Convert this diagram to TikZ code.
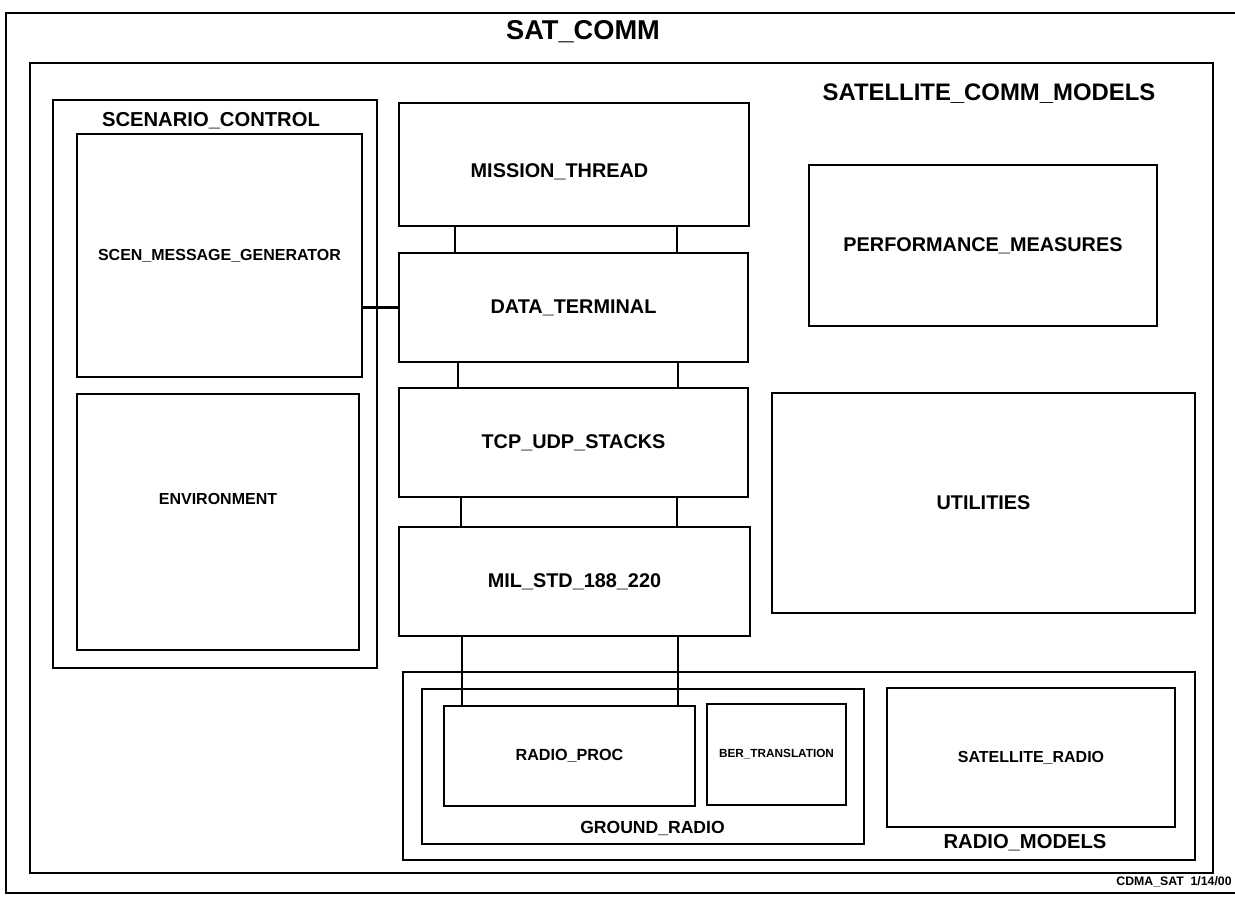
\documentclass[tikz,border=0pt]{standalone}
\usepackage{fontspec}
\setmainfont{Liberation Sans}
\tikzset{
        blk/.style={draw, line width=0.7pt, inner sep=0pt, font=\bfseries\fontsize{11.3}{13}\selectfont},
        blksize/.style 2 args={minimum width=#1*0.02cm, minimum height=#2*0.02cm},
        ttl/.style={inner sep=0pt, font=\bfseries\fontsize{#1}{#1}\selectfont},
        link/.style={line width=1.2pt},
}

\begin{document}
\begin{tikzpicture}[x=0.02cm, y=-0.02cm]
        \useasboundingbox (0,0) rectangle (1235,898);

        \draw[line width=0.7pt] (1240,13) -- (6,13) -- (6,893) -- (1240,893);
        \node[ttl=15.5] (satcomm) at (583,32) {SAT\_COMM};

        \node[blk, blksize={1183}{810}] (models) at (621.5,468) {};
        \node[ttl=13.6] (models-t) at (989,94) {SATELLITE\_COMM\_MODELS};

        \node[blk, blksize={324}{568}] (scenario) at (215,384) {};
        \node[ttl=11.5] (scenario-t) at (211,121) {SCENARIO\_CONTROL};
        \node[blk, blksize={285}{243}, font=\bfseries\fontsize{9.1}{11}\selectfont] (scen) at (219.5,255.5) {SCEN\_MESSAGE\_GENERATOR};
        \node[blk, blksize={282}{256},
                label={[name=env-t, yshift=0.46cm, font=\bfseries\fontsize{9.1}{11}\selectfont]center:ENVIRONMENT}] (env) at (218,522) {};

        \node[blk, blksize={350}{123},
                label={[name=mission-t, xshift=-0.29cm, yshift=-0.15cm, font=\bfseries\fontsize{11.3}{13}\selectfont]center:MISSION\_THREAD}] (mission) at (574,164.5) {};
        \node[blk, blksize={349}{109}] (dt) at (573.5,307.5) {DATA\_TERMINAL};
        \node[blk, blksize={349}{109}] (tcp) at (573.5,442.5) {TCP\_UDP\_STACKS};
        \node[blk, blksize={351}{109}] (mil) at (574.5,581.5) {MIL\_STD\_188\_220};

        \node[blk, blksize={348}{161}] (perf) at (983,245.5) {PERFORMANCE\_MEASURES};
        \node[blk, blksize={423}{220}] (util) at (983.5,503) {UTILITIES};

        \node[blk, blksize={792}{188}] (radios) at (799,766) {};
        \node[ttl=11.5] (radios-t) at (1025,843) {RADIO\_MODELS};
        \node[blk, blksize={442}{155}] (ground) at (643,766.5) {};
        \node[ttl=10] (ground-t) at (652.5,828) {GROUND\_RADIO};
        \node[blk, blksize={251}{100}, font=\bfseries\fontsize{9.2}{11}\selectfont] (rp) at (569.5,756) {RADIO\_PROC};
        \node[blk, blksize={139}{101}, font=\bfseries\fontsize{6.7}{8}\selectfont] (ber) at (776.5,754.5) {BER\_TRANSLATION};
        \node[blk, blksize={288}{139}, font=\bfseries\fontsize{9.1}{11}\selectfont] (satr) at (1031,757.5) {SATELLITE\_RADIO};

        \node[ttl=7, anchor=east] (stamp) at (1232,882) {CDMA\_SAT\ \ 1/14/00};

        \draw[link] (dt.west) -- (dt.west -| scen.east);
        \foreach \a/\b/\offa/\offb in {mission/dt/57/279, dt/tcp/60/280, tcp/mil/63/279, mil/rp/64/280}
                \draw[link] ([xshift=\offa*0.02cm]\a.south west) -- ([xshift=\offa*0.02cm]\a.south west |- \b.north)
                        ([xshift=\offb*0.02cm]\a.south west) -- ([xshift=\offb*0.02cm]\a.south west |- \b.north);
\end{tikzpicture}
\end{document}
